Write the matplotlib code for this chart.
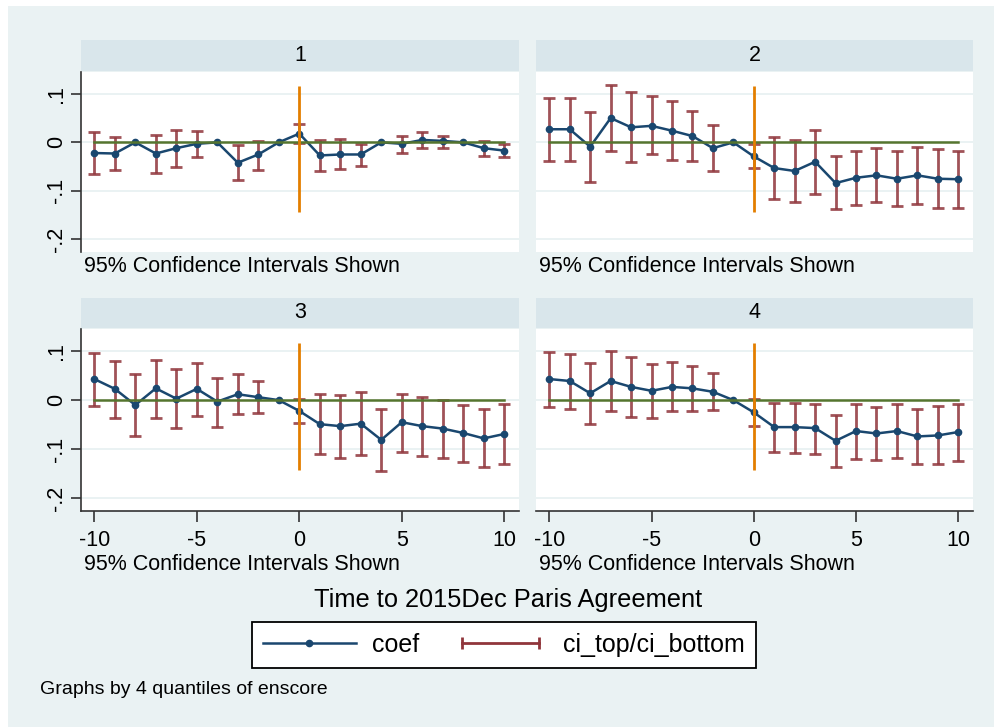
import numpy as np
import matplotlib
matplotlib.use("Agg")
import matplotlib.pyplot as plt
from matplotlib.patches import Rectangle
from matplotlib.lines import Line2D
from matplotlib.legend_handler import HandlerLine2D

nan = np.nan
x = list(range(-10, 11))
panel_labels = ["1", "2", "3", "4"]

coef1 = [-0.022, -0.023, 0.0, -0.023, -0.012, -0.003, 0.0, -0.042, -0.025, 0.0, 0.018,
         -0.027, -0.025, -0.025, 0.0, -0.003, 0.005, 0.003, 0.0, -0.012, -0.017]
top1 = [0.022, 0.010, nan, 0.016, 0.026, 0.023, nan, -0.005, 0.003, nan, 0.038,
        0.005, 0.006, -0.003, nan, 0.014, 0.021, 0.014, nan, 0.003, -0.004]
bot1 = [-0.066, -0.056, nan, -0.063, -0.051, -0.031, nan, -0.078, -0.056, nan, -0.001,
        -0.060, -0.055, -0.049, nan, -0.022, -0.012, -0.011, nan, -0.029, -0.031]

coef2 = [0.027, 0.027, -0.009, 0.050, 0.031, 0.034, 0.024, 0.013, -0.012, 0.0, -0.029,
         -0.053, -0.059, -0.040, -0.084, -0.073, -0.068, -0.075, -0.068, -0.075, -0.076]
top2 = [0.092, 0.092, 0.062, 0.118, 0.103, 0.095, 0.085, 0.064, 0.035, nan, -0.003,
        0.010, 0.005, 0.025, -0.029, -0.018, -0.012, -0.018, -0.010, -0.014, -0.017]
bot2 = [-0.038, -0.038, -0.081, -0.017, -0.040, -0.025, -0.036, -0.038, -0.060, nan, -0.053,
        -0.117, -0.123, -0.106, -0.138, -0.129, -0.123, -0.132, -0.127, -0.135, -0.136]

coef3 = [0.043, 0.023, -0.010, 0.024, 0.003, 0.023, -0.003, 0.012, 0.006, 0.0, -0.022,
         -0.049, -0.053, -0.048, -0.081, -0.045, -0.053, -0.058, -0.067, -0.078, -0.069]
top3 = [0.096, 0.080, 0.054, 0.082, 0.063, 0.076, 0.045, 0.053, 0.040, nan, 0.002,
        0.012, 0.010, 0.016, -0.019, 0.013, 0.006, 0.001, -0.009, -0.019, -0.008]
bot3 = [-0.011, -0.036, -0.074, -0.036, -0.057, -0.032, -0.054, -0.028, -0.026, nan, -0.047,
        -0.110, -0.117, -0.111, -0.144, -0.106, -0.113, -0.118, -0.126, -0.137, -0.131]

coef4 = [0.043, 0.039, 0.014, 0.039, 0.027, 0.019, 0.027, 0.024, 0.017, 0.0, -0.025,
         -0.055, -0.055, -0.057, -0.083, -0.063, -0.068, -0.063, -0.074, -0.072, -0.065]
top4 = [0.098, 0.095, 0.076, 0.100, 0.088, 0.074, 0.077, 0.069, 0.056, nan, 0.003,
        -0.006, -0.005, -0.007, -0.030, -0.008, -0.014, -0.008, -0.019, -0.011, -0.008]
bot4 = [-0.013, -0.019, -0.048, -0.023, -0.034, -0.037, -0.023, -0.022, -0.021, nan, -0.052,
        -0.106, -0.107, -0.109, -0.137, -0.119, -0.123, -0.118, -0.131, -0.131, -0.124]

coefs = [coef1, coef2, coef3, coef4]
tops = [top1, top2, top3, top4]
bots = [bot1, bot2, bot3, bot4]

yticks = [0.1, 0.0, -0.1, -0.2]
yticklabels = [".1", "0", "-.1", "-.2"]
xticks = [-10, -5, 0, 5, 10]
xticklabels = ["-10", "-5", "0", "5", "10"]
event_line = (-0.143, 0.117)

note = "95% Confidence Intervals Shown"
xtitle = "Time to 2015Dec Paris Agreement"
bynote = "Graphs by 4 quantiles of enscore"

NAVY = "#1A476F"
MAROON = "#90353B"
GREEN = "#55752F"
ORANGE = "#E37E00"
BG = "#EAF2F3"
HEAD = "#D9E6EB"

plt.rcParams['font.family'] = ['Liberation Sans', 'DejaVu Sans']

W, H = 995, 727
fig = plt.figure(figsize=(W / 100, H / 100), dpi=100, facecolor="white")
fig.patches.append(Rectangle((8 / W, 0), 1 - 8 / W, 1 - 6 / H, transform=fig.transFigure,
                             facecolor=BG, edgecolor="none", zorder=-10))

def rect(x0, y0, x1, y1):
    return [x0 / W, 1 - y1 / H, (x1 - x0) / W, (y1 - y0) / H]

cols = [(81, 519), (536, 973)]
rows = [(40, 72, 252), (298, 329, 511)]
ylim = (-0.226, 0.145)
xlim = (-10.65, 10.72)

for i in range(4):
    r, c = divmod(i, 2)
    x0, x1 = cols[c]
    hy0, py0, py1 = rows[r]
    hax = fig.add_axes(rect(x0, hy0, x1, py0 - 1))
    hax.set_facecolor(HEAD)
    hax.set_xticks([]); hax.set_yticks([])
    for s in hax.spines.values():
        s.set_visible(False)
    hax.text(0.5, 0.5, panel_labels[i], ha="center", va="center", fontsize=15.5,
             transform=hax.transAxes)

    ax = fig.add_axes(rect(x0, py0, x1, py1))
    ax.set_facecolor("white")
    ax.set_xlim(*xlim); ax.set_ylim(*ylim)
    ax.set_yticks(yticks)
    ax.set_xticks(xticks)
    for yv in yticks:
        ax.axhline(yv, color=BG, lw=1.4, zorder=0.5)
    for s in ["top", "right"]:
        ax.spines[s].set_visible(False)
    if c == 0:
        ax.spines["left"].set_color("#333333"); ax.spines["left"].set_linewidth(1.2)
        ax.set_yticklabels(yticklabels, rotation=90, va="center", fontsize=15.5)
        ax.tick_params(axis="y", length=7, width=1.2, color="#333333", pad=3)
    else:
        ax.spines["left"].set_visible(False)
        ax.tick_params(axis="y", left=False, labelleft=False)
    if r == 1:
        ax.spines["bottom"].set_color("#333333"); ax.spines["bottom"].set_linewidth(1.2)
        ax.set_xticklabels(xticklabels, fontsize=15.5)
        ax.tick_params(axis="x", length=8, width=1.2, color="#333333", pad=6)
    else:
        ax.spines["bottom"].set_visible(False)
        ax.tick_params(axis="x", bottom=False, labelbottom=False)

    t = np.array(tops[i], dtype=float)
    b = np.array(bots[i], dtype=float)
    ax.vlines(x, b, t, color=MAROON, lw=2.0, alpha=0.85, zorder=2)
    ax.plot(x, t, ls="none", marker="_", ms=8, mew=2.0, color=MAROON, alpha=0.85, zorder=2)
    ax.plot(x, b, ls="none", marker="_", ms=8, mew=2.0, color=MAROON, alpha=0.85, zorder=2)
    ax.plot(x, coefs[i], color=NAVY, lw=1.8, marker="o", ms=4.5, zorder=3)
    ax.plot([x[0], x[-1]], [0, 0], color=GREEN, lw=1.8, zorder=4)
    ax.vlines(0, event_line[0], event_line[1], color=ORANGE, lw=2.0, zorder=5)

    ny = 267 if r == 0 else 564
    fig.text((x0 + 3) / W, 1 - ny / H, note, ha="left", va="center", fontsize=15.5)

fig.text(508 / W, 1 - 600 / H, xtitle, ha="center", va="center", fontsize=18.3)
fig.text(40 / W, 1 - 690 / H, bynote, ha="left", va="center", fontsize=14)

h_coef = Line2D([], [], color=NAVY, lw=1.8, marker="o", ms=4.5)
h_ci = Line2D([], [], color=MAROON, lw=2.0, marker="|", ms=9, mew=2.0)
leg = fig.legend([h_coef, h_ci], ["coef", "ci_top/ci_bottom"], loc="center",
                 bbox_to_anchor=(504 / W, 1 - 645 / H), ncol=2, fontsize=18,
                 frameon=True, fancybox=False, edgecolor="black", facecolor="white",
                 framealpha=1, handlelength=3.7, handletextpad=0.65, columnspacing=1.4,
                 borderpad=0.45,
                 handler_map={h_ci: HandlerLine2D(numpoints=2)})
leg.get_frame().set_linewidth(1.3)

fig.savefig("out.png", dpi=100, facecolor=fig.get_facecolor())
